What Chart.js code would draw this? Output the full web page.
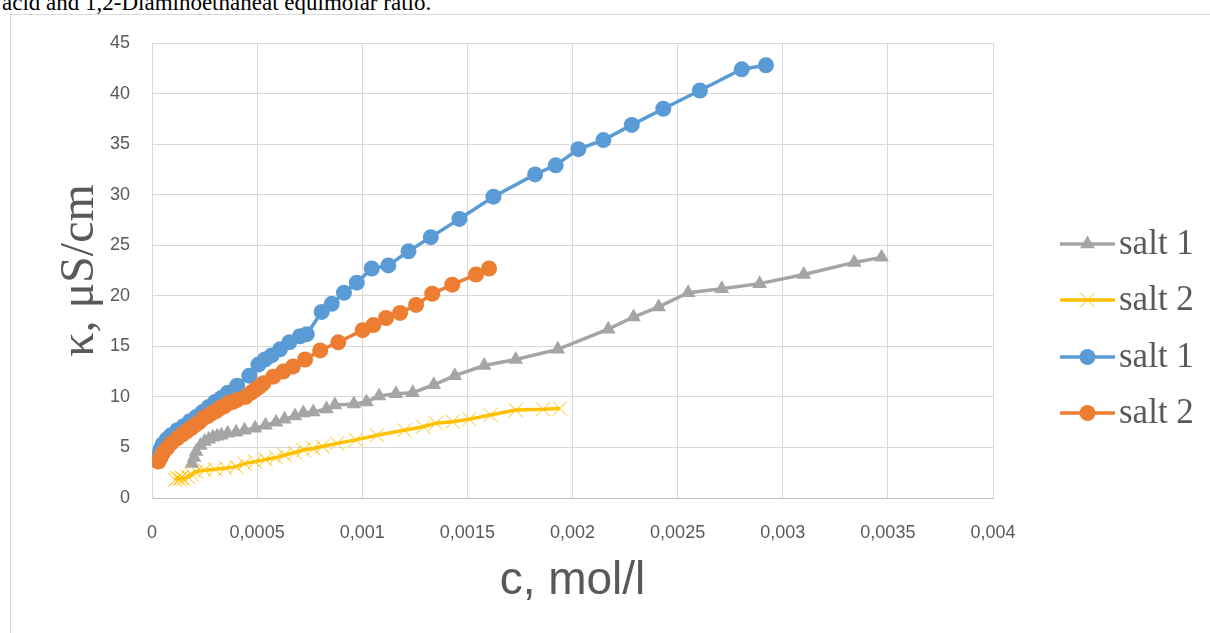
<!DOCTYPE html>
<html>
<head>
<meta charset="utf-8">
<script src="https://cdn.jsdelivr.net/npm/chart.js@4/dist/chart.umd.min.js"></script>
<style>
  html, body { margin: 0; padding: 0; background: #fff; overflow: hidden; }
  #page { position: relative; width: 1210px; height: 633px; overflow: hidden; }
  #caption {
    position: absolute; left: 2px; top: -9px; white-space: nowrap;
    font: 23px/23px "Liberation Serif", "Times New Roman", serif; color: #000;
  }
  #frame {
    position: absolute; left: 10px; top: 14px; width: 1260px; height: 700px;
    border: 1px solid #d9d9d9; box-sizing: border-box;
  }
  #wrap { position: absolute; left: 0; top: 0; width: 1210px; height: 633px; }
</style>
</head>
<body>
<div id="page">
  <div id="caption">acid and 1,2-Diaminoethaneat equimolar ratio.</div>
  <div id="frame"></div>
  <div id="wrap"><canvas id="chart"></canvas></div>
</div>
<script>
// concentration c (mol/l) and conductivity κ (µS/cm)

// salt 1 (grey, triangles)
const grayC = [0.00019, 0.0002, 0.00021, 0.00023, 0.00025, 0.00027, 0.00029, 0.00031, 0.00033, 0.00036,
  0.0004, 0.00044, 0.00049, 0.00054, 0.00059, 0.00063, 0.00068, 0.00072, 0.000767, 0.00083,
  0.00087, 0.00096, 0.00102, 0.00108, 0.00116, 0.00124, 0.00134, 0.00144, 0.00158, 0.00173,
  0.00193, 0.00217, 0.00229, 0.00241, 0.00255, 0.00271, 0.00289, 0.0031, 0.00334, 0.00347];
const grayK = [3.4, 4.0, 4.6, 5.2, 5.6, 5.8, 6.0, 6.1, 6.2, 6.4,
  6.5, 6.7, 6.9, 7.2, 7.5, 7.8, 8.1, 8.4, 8.5, 8.8,
  9.2, 9.3, 9.5, 10.1, 10.3, 10.4, 11.2, 12.1, 13.1, 13.7,
  14.7, 16.7, 17.9, 18.9, 20.3, 20.7, 21.2, 22.1, 23.3, 23.8];

// salt 2 (yellow, crosses)
const yellowC = [0.00011, 0.00012, 0.00013, 0.00014, 0.00015, 0.00017, 0.00019, 0.00021, 0.00025, 0.0003,
  0.00035, 0.0004, 0.00044, 0.00049, 0.00054, 0.00059, 0.00063, 0.00068, 0.00072, 0.000767,
  0.00081, 0.00088, 0.00097, 0.00107, 0.0012, 0.00129, 0.00135, 0.00143, 0.00151, 0.00161,
  0.00173, 0.00186, 0.00194];
const yellowK = [1.8, 2.0, 1.9, 2.0, 1.9, 2.1, 2.3, 2.6, 2.75, 2.85,
  2.95, 3.1, 3.4, 3.6, 3.8, 4.0, 4.25, 4.5, 4.75, 4.9,
  5.1, 5.4, 5.75, 6.2, 6.7, 7.05, 7.4, 7.55, 7.8, 8.2,
  8.7, 8.77, 8.85];

// salt 1 (blue, circles)
const blueC = [0.00003, 0.00004, 0.00005, 0.00007, 0.00009, 0.00012, 0.00015, 0.00018, 0.00021, 0.00024,
  0.00027, 0.0003, 0.00033, 0.00036, 0.000405, 0.000463, 0.000506, 0.000537, 0.000569, 0.000609,
  0.000653, 0.000704, 0.000736, 0.000807, 0.000855, 0.000913, 0.000974, 0.001045, 0.001124, 0.00122,
  0.001326, 0.001462, 0.001624, 0.001822, 0.00192, 0.002028, 0.002147, 0.002282, 0.002432, 0.002606,
  0.002805, 0.00292];
const blueK = [4.1, 4.8, 5.3, 5.8, 6.2, 6.7, 7.1, 7.6, 8.0, 8.5,
  9.0, 9.5, 9.9, 10.4, 11.1, 12.1, 13.2, 13.7, 14.1, 14.7,
  15.4, 16.0, 16.2, 18.4, 19.2, 20.3, 21.3, 22.7, 23.0, 24.4,
  25.8, 27.6, 29.8, 32.0, 32.9, 34.5, 35.4, 36.9, 38.5, 40.3,
  42.4, 42.8];

// salt 2 (orange, circles)
const orangeC = [0.00003, 0.00004, 0.00005, 0.00007, 0.00009, 0.00012, 0.000145, 0.000165, 0.000185, 0.000205,
  0.000225, 0.000245, 0.000265, 0.000285, 0.000305, 0.000325, 0.000345, 0.000365, 0.000385, 0.000405,
  0.000445, 0.00047, 0.00049, 0.00051, 0.00053, 0.000577, 0.000624, 0.00067, 0.000728, 0.0008,
  0.000886, 0.001002, 0.001053, 0.001113, 0.00118, 0.001256, 0.001333, 0.001428, 0.001541, 0.001603];
const orangeK = [3.6, 4.0, 4.4, 4.9, 5.4, 5.9, 6.3, 6.6, 6.9, 7.2,
  7.5, 7.9, 8.1, 8.4, 8.6, 8.9, 9.1, 9.4, 9.5, 9.7,
  10.0, 10.4, 10.7, 11.0, 11.35, 12.0, 12.5, 13.0, 13.7, 14.6,
  15.4, 16.6, 17.1, 17.8, 18.3, 19.1, 20.2, 21.1, 22.1, 22.7];

const seriesLabels = ['salt 1', 'salt 2', 'salt 1', 'salt 2'];
const xTitle = 'c, mol/l';
const yTitle = 'κ, μS/cm';

const GRID = '#d9d9d9';
const TEXT = '#595959';

function pairs(cs, ks) {
  return cs.map((c, i) => ({ x: c, y: ks[i] }));
}

function makeSet(label, cs, ks, color, style, radius, order) {
  return {
    label,
    data: pairs(cs, ks),
    borderColor: color,
    backgroundColor: color,
    pointBackgroundColor: color,
    pointBorderColor: color,
    pointStyle: style,
    pointRadius: radius,
    pointHoverRadius: radius,
    pointBorderWidth: style === 'crossRot' ? 1 : 0,
    borderWidth: 3.5,
    showLine: true,
    tension: 0,
    order
  };
}

// legend drawn like the Excel one: short line with marker, then serif text
const sideLegend = {
  id: 'sideLegend',
  afterDraw(chart) {
    const ctx = chart.ctx;
    const rows = [244, 300, 357, 413];
    ctx.save();
    chart.data.datasets.forEach((ds, i) => {
      const y = rows[i];
      ctx.strokeStyle = ds.borderColor;
      ctx.lineWidth = 3.5;
      ctx.beginPath();
      ctx.moveTo(1060, y);
      ctx.lineTo(1115, y);
      ctx.stroke();
      ctx.fillStyle = ds.pointBackgroundColor;
      ctx.strokeStyle = ds.pointBorderColor;
      ctx.lineWidth = ds.pointBorderWidth || 1;
      Chart.helpers.drawPoint(ctx, {
        pointStyle: ds.pointStyle,
        radius: ds.pointRadius,
        rotation: 0,
        borderWidth: ds.pointBorderWidth
      }, 1087.5, y);
      ctx.fillStyle = TEXT;
      ctx.font = '35px "Liberation Serif", "Times New Roman", serif';
      ctx.textBaseline = 'middle';
      ctx.textAlign = 'left';
      ctx.fillText(ds.label, 1119, y + 1);
    });
    ctx.restore();
  }
};

new Chart(document.getElementById('chart'), {
  type: 'scatter',
  data: {
    datasets: [
      makeSet(seriesLabels[0], grayC, grayK, '#a5a5a5', 'triangle', 8.5, 3),
      makeSet(seriesLabels[1], yellowC, yellowK, '#ffc000', 'crossRot', 10, 2),
      makeSet(seriesLabels[2], blueC, blueK, '#5b9bd5', 'circle', 8, 1),
      makeSet(seriesLabels[3], orangeC, orangeK, '#ed7d31', 'circle', 8, 0)
    ]
  },
  options: {
    responsive: true,
    maintainAspectRatio: false,
    animation: false,
    layout: { padding: { left: 0, right: 217, top: 43, bottom: 0 } },
    scales: {
      x: {
        type: 'linear',
        min: 0,
        max: 0.004,
        afterFit: s => { s.height = 135; },
        ticks: {
          stepSize: 0.0005,
          color: TEXT,
          padding: 24,
          font: { family: '"Liberation Sans", Arial, sans-serif', size: 18 },
          callback: v => Number(v.toFixed(4)).toString().replace('.', ',')
        },
        grid: { color: GRID, lineWidth: 1, drawTicks: false },
        border: { color: '#bfbfbf', width: 1 },
        title: {
          display: true,
          text: xTitle,
          color: TEXT,
          padding: { top: 0, bottom: 24 },
          font: { family: '"Liberation Sans", Arial, sans-serif', size: 46 }
        }
      },
      y: {
        min: 0,
        max: 45,
        afterFit: s => { s.width = 152; },
        ticks: {
          stepSize: 5,
          color: TEXT,
          padding: 22,
          font: { family: '"Liberation Sans", Arial, sans-serif', size: 18 }
        },
        grid: { color: GRID, lineWidth: 1, drawTicks: false },
        border: { color: GRID, width: 1 },
        title: {
          display: true,
          text: yTitle,
          color: TEXT,
          padding: { top: 52, bottom: 0 },
          font: { family: '"Liberation Serif", "Times New Roman", serif', size: 48 }
        }
      }
    },
    plugins: {
      legend: { display: false },
      tooltip: { enabled: false }
    }
  },
  plugins: [sideLegend]
});
</script>
</body>
</html>
